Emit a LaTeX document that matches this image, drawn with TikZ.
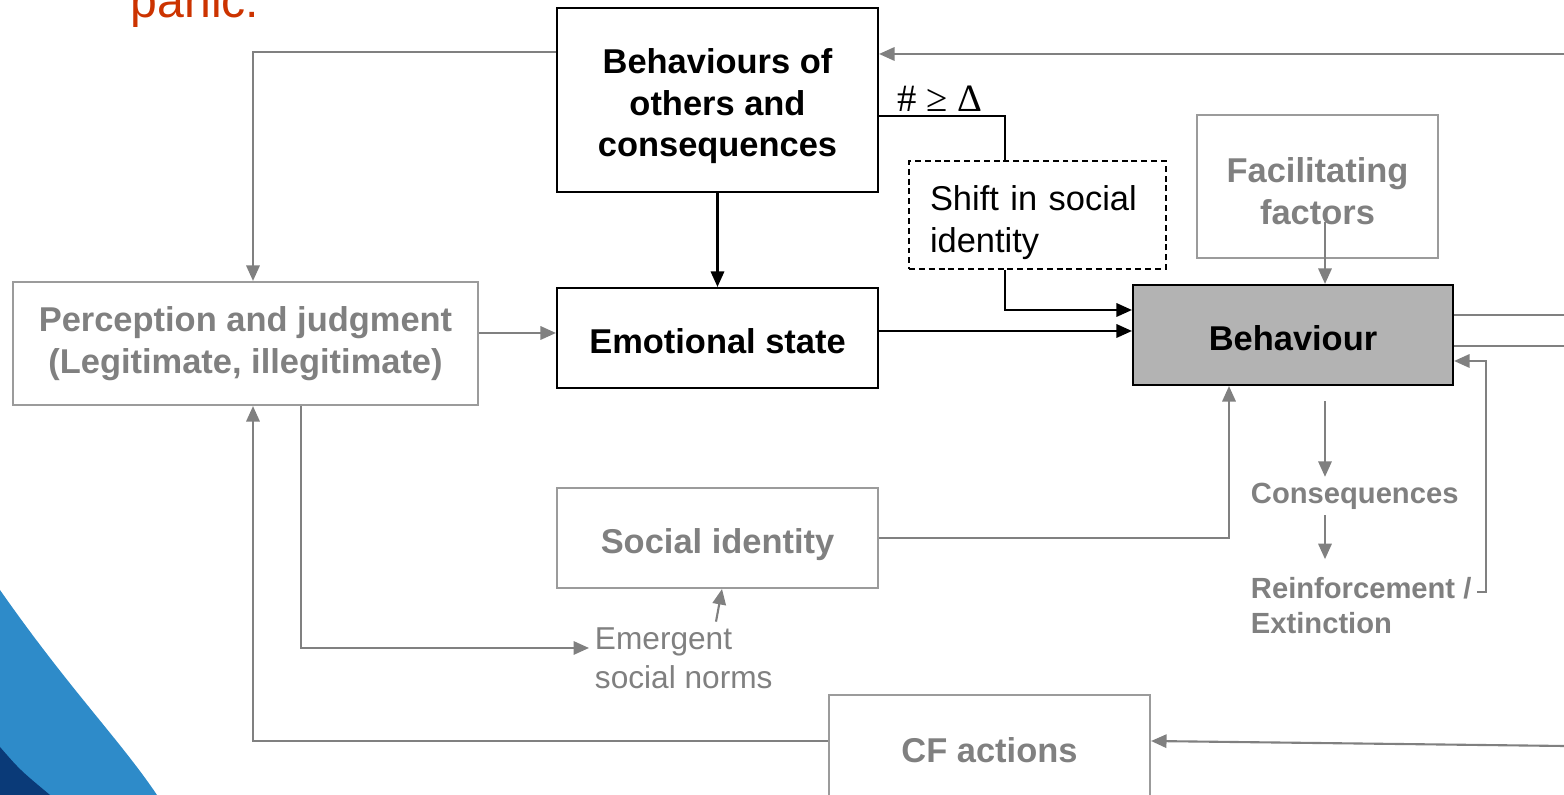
\documentclass[tikz,border=0pt]{standalone}
\usepackage{fontspec}
\setmainfont{Liberation Sans}
\newfontfamily\timesfont{Liberation Serif}
\usetikzlibrary{arrows.meta}
\definecolor{linegray}{RGB}{128,128,128}
\definecolor{boxgray}{RGB}{155,155,155}
\definecolor{behavfill}{RGB}{179,179,179}
\definecolor{panicred}{RGB}{204,51,0}
\definecolor{lightblue}{RGB}{46,139,201}
\definecolor{darkblue}{RGB}{10,58,120}

\begin{document}
\begin{tikzpicture}[
  >={Triangle[length=4.4pt,width=3.8pt]},
  bbox/.style={draw=black, line width=0.6pt, minimum width=3.21cm, align=center, inner sep=0pt, font=\fontsize{9.8}{11.9}\selectfont\bfseries},
  gbox/.style={draw=boxgray, line width=0.6pt, text=linegray, align=center, inner sep=0pt, font=\fontsize{9.8}{11.9}\selectfont\bfseries},
  oneline/.style={text height=1.1em, text depth=0.22em},
  bline/.style={draw=black, line width=0.6pt},
  gline/.style={draw=linegray, line width=0.6pt},
  glabel/.style={text=linegray, align=left, inner sep=1.5pt}
]
\clip (0,0) rectangle (15.64,-7.95);
\useasboundingbox (0,0) rectangle (15.64,-7.95);

% corner swoosh
\fill[lightblue] (0,-5.90) .. controls (0.7,-6.9) and (1.2,-7.4) .. (1.57,-7.95) -- (0,-7.95) -- cycle;
\fill[darkblue] (0,-7.47) .. controls (0.2,-7.7) .. (0.5,-7.95) -- (0,-7.95) -- cycle;

\node[anchor=base west, inner sep=0pt, text=panicred, font=\fontsize{13.7}{16}\selectfont] (title) at (1.30,-0.18) {panic.};

% boxes
\node[bbox, minimum height=1.84cm] (others) at (7.175,-1.00) {\rule{0pt}{10.6pt}Behaviours of\\others and\\consequences};
\node[bbox, oneline, minimum height=1.00cm] (emotion) at (7.175,-3.38) {Emotional state};
\node[gbox, minimum width=4.65cm, minimum height=1.23cm] (percep) at (2.455,-3.435) {Perception and judgment\\(Legitimate, illegitimate)};
\node[gbox, oneline, minimum width=3.21cm, minimum height=1.00cm] (socid) at (7.175,-5.38) {Social identity};
\node[gbox, minimum width=3.21cm, minimum height=1.10cm] (cfact) at (9.895,-7.50) {CF actions};
\node[draw=black, line width=0.6pt, dash pattern=on 1.7pt off 1.1pt, minimum width=2.57cm, minimum height=1.08cm,
      text width=2.15cm, align=left, inner sep=0pt, font=\fontsize{9.8}{11.9}\selectfont] (shift) at (10.375,-2.15) {\rule{0pt}{11.2pt}Shift in social\\identity};
\node[gbox, minimum width=2.41cm, minimum height=1.43cm] (facil) at (13.175,-1.865) {\rule{0pt}{9.7pt}Facilitating\\factors};
\node[bbox, oneline, fill=behavfill, minimum width=3.20cm, minimum height=1.00cm] (behav) at (12.93,-3.35) {Behaviour};

% free labels
\node[glabel, anchor=west, font=\fontsize{8.3}{10}\selectfont\bfseries] (conseq) at (12.45,-4.96) {Consequences};
\node[glabel, anchor=west, font=\fontsize{8.3}{10}\selectfont\bfseries] (reinf) at (12.45,-6.055) {Reinforcement /\\Extinction};
\node[glabel, anchor=west, font=\fontsize{9}{11}\selectfont] (emerg) at (5.89,-6.58) {Emergent\\social norms};

% main chain
\draw[gline,->] (15.64,-0.54) -- (others.east |- 0,-0.54);
\draw[gline,->] (others.west |- 0,-0.52) -| (percep.north -| 2.53,0);
\draw[bline,->] (others) -- (emotion);
\draw[gline,->] (percep.east |- 0,-3.33) -- (emotion.west |- 0,-3.33);
\draw[bline,->] (emotion.east |- 0,-3.31) -- (behav.west |- 0,-3.31);

% shift
\draw[bline] (others.east |- 0,-1.16) -| (shift.north -| 10.05,0);
	\node[anchor=base west, inner sep=0pt, font=\timesfont\fontsize{11}{13}\selectfont] (cond) at (8.97,-1.12) {\# ≥ Δ};
\draw[bline,->] (shift.south -| 10.05,0) |- (behav.west |- 0,-3.10);

% facilitating
\draw[gline,->] (facil.center -| 13.25,0) ++(0,-0.355) -- (behav.north -| 13.25,0);

% out to the right
\draw[gline] (behav.east |- 0,-3.15) -- (15.64,-3.15);
\draw[gline] (behav.east |- 0,-3.46) -- (15.64,-3.46);

% consequences
\draw[gline,->] ([yshift=-0.15cm]behav.south -| 13.25,0) -- (conseq.north -| 13.25,0);
\draw[gline,->] (conseq.south -| 13.25,0) -- ++(0,-0.44);
\draw[gline,->] (reinf.east |- 0,-5.92) -| (14.86,-3.61) -- (behav.east |- 0,-3.61);

% social identity
\draw[gline,->] (socid.east) -| (behav.south -| 12.29,0);
\draw[gline,->] (percep.south -| 3.01,0) |- (emerg.west |- 0,-6.48);
\draw[gline,->] (emerg.north -| 7.16,0) -- (socid.south -| 7.22,0);

% cf actions
\draw[gline,->] (cfact.west |- 0,-7.41) -| (percep.south -| 2.53,0);
\draw[gline,->] (15.64,-7.46) -- (cfact.east |- 0,-7.41);
\end{tikzpicture}
\end{document}
